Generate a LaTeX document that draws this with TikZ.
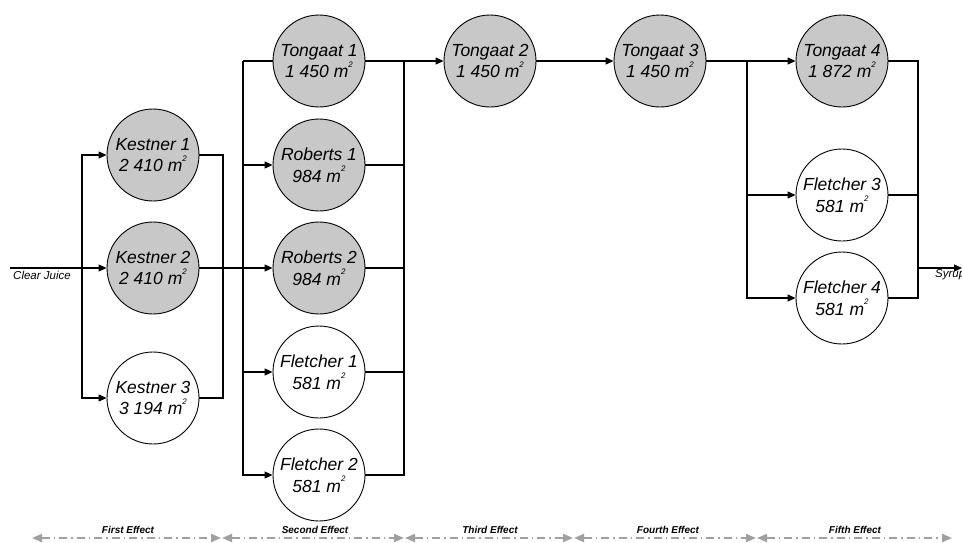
\documentclass[tikz,border=0pt]{standalone}
\usepackage{fontspec}
\setmainfont{Liberation Sans}
\usetikzlibrary{arrows.meta}
\definecolor{fillgray}{RGB}{200,200,200}
\definecolor{effgray}{RGB}{160,160,160}
\newcommand{\msq}{m\raisebox{0.6em}{\fontsize{8}{8}\selectfont 2}}
\tikzset{
  evap/.style={circle, draw=black, line width=0.9pt, minimum size=92pt, inner sep=0pt,
    align=center, font=\fontsize{17.5}{21.5}\selectfont\itshape},
  shaded/.style={evap, fill=fillgray},
  plain/.style={evap, fill=white},
  pipe/.style={draw=black, line width=1.2pt},
  arr/.style={pipe, -{Triangle[length=8pt,width=7pt]}},
  effect/.style={draw=effgray, line width=2pt, dash pattern=on 8pt off 4pt on 1.5pt off 4pt,
    {Triangle[length=10pt,width=8pt]}-{Triangle[length=10pt,width=8pt]}},
  efflabel/.style={font=\fontsize{10}{12}\selectfont\bfseries\itshape, inner sep=0pt},
  smalllabel/.style={font=\fontsize{11.5}{13}\selectfont\itshape, inner sep=0pt}
}
\begin{document}
\begin{tikzpicture}[x=1pt,y=-1pt]
\useasboundingbox (0,0) rectangle (962,542);
% nodes
\node[shaded] (K1) at (153,155) {Kestner 1\\2 410 \msq};
\node[shaded] (K2) at (153,268) {Kestner 2\\2 410 \msq};
\node[plain]  (K3) at (153,398) {Kestner 3\\3 194 \msq};
\node[shaded] (T1) at (319,61)  {Tongaat 1\\1 450 \msq};
\node[shaded] (R1) at (319,165) {Roberts 1\\984 \msq};
\node[shaded] (R2) at (319,268) {Roberts 2\\984 \msq};
\node[plain]  (F1) at (319,372) {Fletcher 1\\581 \msq};
\node[plain]  (F2) at (319,475) {Fletcher 2\\581 \msq};
\node[shaded] (T2) at (490,61)  {Tongaat 2\\1 450 \msq};
\node[shaded] (T3) at (660,61)  {Tongaat 3\\1 450 \msq};
\node[shaded] (T4) at (842,61)  {Tongaat 4\\1 872 \msq};
\node[plain]  (F3) at (842,195) {Fletcher 3\\581 \msq};
\node[plain]  (F4) at (842,298) {Fletcher 4\\581 \msq};
% junction coordinates
\coordinate (cj) at (10,268);
\coordinate (s1) at (82,268);
\coordinate (m1) at (223,268);
\coordinate (s2t) at (243,61);
\coordinate (s2) at (243,268);
\coordinate (m2) at (404,268);
\coordinate (s5) at (747,195);
\coordinate (m5) at (918,268);
\coordinate (syr) at (962,268);
% first effect
\draw[arr] (cj) -- (K2);
\draw[arr] (s1) |- (K1);
\draw[arr] (s1) |- (K3);
\draw[pipe] (K1) -| (m1) |- (K3);
\draw[arr] (K2) -- (R2);
% second effect
\draw[pipe] (s2t) -- (T1);
\draw[pipe] (s2t) -- (s2);
\draw[arr] (s2) |- (R1);
\draw[arr] (s2) |- (F1);
\draw[arr] (s2) |- (F2);
\draw[pipe] (R1) -| (m2);
\draw[pipe] (T1) -| (m2);
\draw[pipe] (R2) -- (m2);
\draw[pipe] (F1) -| (m2);
\draw[pipe] (F2) -| (m2);
% third / fourth
\draw[arr] (T1) -- (T2);
\draw[arr] (T2) -- (T3);
\draw[arr] (T3) -- (T4);
% fifth effect
\draw[pipe] (s5 |- T3) -- (s5);
\draw[arr] (s5) -- (F3);
\draw[arr] (s5) |- (F4);
\draw[pipe] (T4) -| (m5);
\draw[pipe] (F3) -| (m5);
\draw[pipe] (F4) -| (m5);
\draw[arr] (m5) -- (syr);
% labels
\node[smalllabel] (cjl) at (42,275) {Clear Juice};
\node[smalllabel, anchor=west] (syl) at (935,275) {Syrup};
% effects
\coordinate (e0) at (32,538);
\coordinate (e1) at (221,538);
\coordinate (e2) at (404,538);
\coordinate (e3) at (573,538);
\coordinate (e4) at (756,538);
\coordinate (e5) at (952,538);
\draw[effect] (e0) -- (e1);
\draw[effect] ([xshift=1pt]e1) -- (e2);
\draw[effect] ([xshift=1pt]e2) -- (e3);
\draw[effect] ([xshift=1pt]e3) -- (e4);
\draw[effect] ([xshift=1pt]e4) -- (e5);
\node[efflabel] (l1) at (128,530) {First Effect};
\node[efflabel] (l2) at (315,530) {Second Effect};
\node[efflabel] (l3) at (490,530) {Third Effect};
\node[efflabel] (l4) at (668,530) {Fourth Effect};
\node[efflabel] (l5) at (855,530) {Fifth Effect};
\end{tikzpicture}
\end{document}
